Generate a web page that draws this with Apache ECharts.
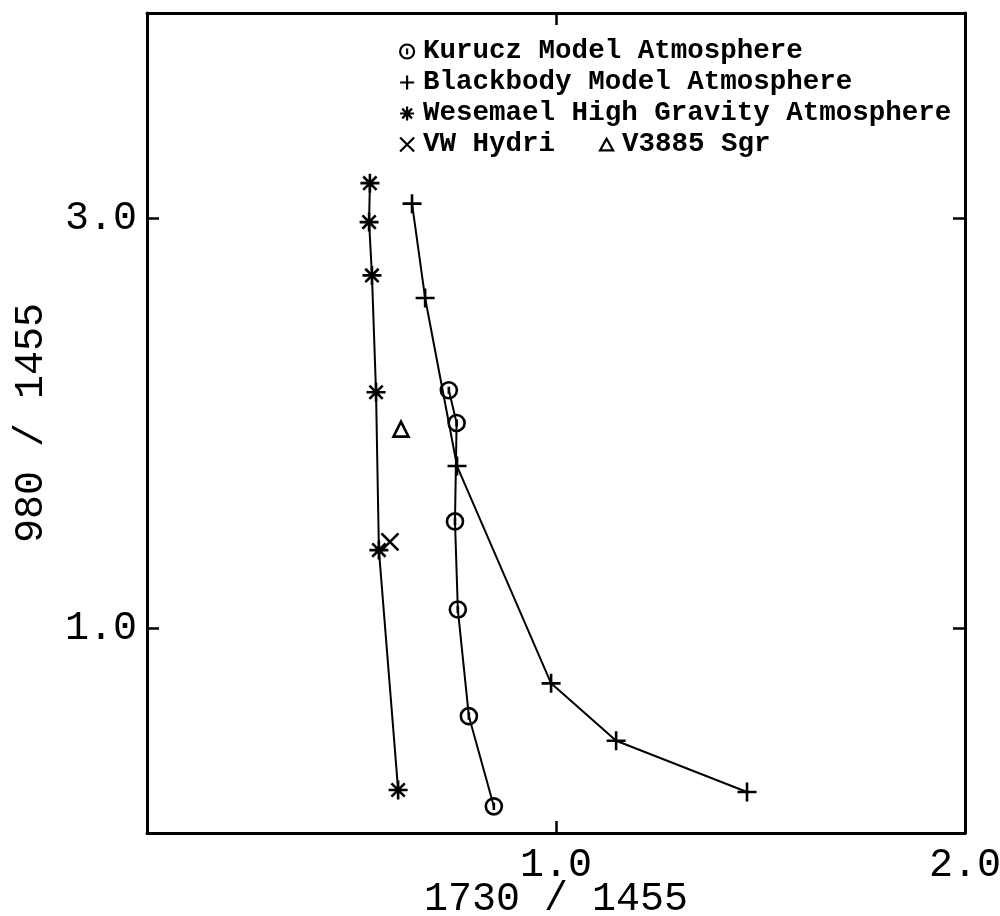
<!DOCTYPE html>
<html>
<head>
<meta charset="utf-8">
<script src="https://cdn.jsdelivr.net/npm/echarts@6/dist/echarts.min.js"></script>
<style>
html,body{margin:0;padding:0;background:#fff;}
#chart{width:1000px;height:916px;}
</style>
</head>
<body>
<div id="chart"></div>
<script>
// ---- data (x = 1730/1455, y = 980/1455) ----
const kuruczName = 'Kurucz Model Atmosphere';
const blackbodyName = 'Blackbody Model Atmosphere';
const wesemaelName = 'Wesemael High Gravity Atmosphere';
const vwName = 'VW Hydri';
const v3885Name = 'V3885 Sgr';

const kurucz = [[0.738,2.16],[0.757,2.00],[0.753,1.52],[0.760,1.09],[0.787,0.57],[0.848,0.13]];
const blackbody = [[0.648,3.07],[0.680,2.61],[0.758,1.79],[0.988,0.73],[1.147,0.45],[1.467,0.20]];
const wesemael = [[0.545,3.17],[0.543,2.98],[0.550,2.72],[0.560,2.15],[0.567,1.38],[0.614,0.21]];
const vwHydri = [[0.594,1.42]];
const v3885 = [[0.621,1.97]];

const xTicks = [1, 2];
const yTicks = [1, 3];
const xTitle = '1730 / 1455';
const yTitle = '980 / 1455';

// ---- symbols ----
const symCircle = 'path://M10,1 A9,9 0 1,1 9.99,1 Z M10,6 L10,14';
const symPlus = 'path://M0,10 L20,10 M10,0 L10,20';
const symStar = 'path://M10,0 L10,20 M0,10 L20,10 M3,3 L17,17 M17,3 L3,17';
const symX = 'path://M2,2 L18,18 M18,2 L2,18';
const symTri = 'path://M10,2 L19,18 L1,18 Z';

const monoFont = '"Liberation Mono","DejaVu Sans Mono",monospace';
const markStyle = {color: 'rgba(0,0,0,0)', borderColor: '#000', borderWidth: 2.6, opacity: 1};

function axisX(pos, showLabel) {
  return {
    type: 'value', position: pos, min: 0, max: 2, interval: 1,
    name: showLabel ? xTitle : '',
    nameLocation: 'middle', nameGap: 46, nameMoveOverlap: false,
    nameTextStyle: {fontFamily: monoFont, fontSize: 40, color: '#000'},
    axisLine: {show: true, onZero: false, lineStyle: {color: '#000', width: 3}},
    axisTick: {show: true, inside: true, length: 12, customValues: xTicks, lineStyle: {color: '#000', width: 2.5}},
    axisLabel: {show: showLabel, customValues: xTicks, margin: 12, fontFamily: monoFont, fontSize: 40, color: '#000',
      formatter: v => v.toFixed(1)},
    splitLine: {show: false}
  };
}
function axisY(pos, showLabel) {
  return {
    type: 'value', position: pos, min: 0, max: 4, interval: 1,
    name: showLabel ? yTitle : '',
    nameLocation: 'middle', nameGap: 96, nameRotate: 90, nameMoveOverlap: false,
    nameTextStyle: {fontFamily: monoFont, fontSize: 40, color: '#000'},
    axisLine: {show: true, onZero: false, lineStyle: {color: '#000', width: 3}},
    axisTick: {show: true, inside: true, length: 12, customValues: yTicks, lineStyle: {color: '#000', width: 2.5}},
    axisLabel: {show: showLabel, customValues: yTicks, margin: 10, fontFamily: monoFont, fontSize: 40, color: '#000',
      formatter: v => v.toFixed(1)},
    splitLine: {show: false}
  };
}

const legendText = {fontFamily: monoFont, fontSize: 27.5, fontWeight: 'bold', color: '#000', lineHeight: 31,
  padding: [0, 0, 0, 4]};
const legendIconStyle = {color: 'rgba(0,0,0,0)', borderColor: '#000', borderWidth: 2.2, opacity: 1};

const option = {
  animation: false,
  backgroundColor: '#fff',
  grid: {left: 147, right: 35, top: 13, bottom: 83, containLabel: false, outerBoundsMode: 'none'},
  xAxis: [axisX('bottom', true), axisX('top', false)],
  yAxis: [axisY('left', true), axisY('right', false)],
  legend: [
    {
      orient: 'vertical', left: 399, top: 36, itemGap: 0, itemWidth: 14, itemHeight: 14,
      selectedMode: false, textStyle: legendText, padding: 0,
      data: [
        {name: kuruczName, icon: symCircle, itemStyle: legendIconStyle},
        {name: blackbodyName, icon: symPlus, itemStyle: legendIconStyle},
        {name: wesemaelName, icon: symStar, itemStyle: legendIconStyle},
        {name: vwName, icon: symX, itemStyle: legendIconStyle}
      ]
    },
    {
      orient: 'vertical', left: 599, top: 129, itemGap: 0, itemWidth: 13, itemHeight: 13,
      selectedMode: false, textStyle: legendText, padding: 0,
      data: [{name: v3885Name, icon: symTri, itemStyle: legendIconStyle}]
    }
  ],
  series: [
    {name: kuruczName, type: 'line', data: kurucz, symbol: symCircle, symbolSize: 16,
      showAllSymbol: true, lineStyle: {color: '#000', width: 2}, itemStyle: markStyle, z: 3},
    {name: blackbodyName, type: 'line', data: blackbody, symbol: symPlus, symbolSize: 19,
      showAllSymbol: true, lineStyle: {color: '#000', width: 2}, itemStyle: markStyle, z: 3},
    {name: wesemaelName, type: 'line', data: wesemael, symbol: symStar, symbolSize: 19,
      showAllSymbol: true, lineStyle: {color: '#000', width: 2}, itemStyle: markStyle, z: 3},
    {name: vwName, type: 'scatter', data: vwHydri, symbol: symX, symbolSize: 17, itemStyle: markStyle, z: 3},
    {name: v3885Name, type: 'scatter', data: v3885, symbol: symTri, symbolSize: 15, itemStyle: markStyle, z: 3}
  ]
};

const chart = echarts.init(document.getElementById('chart'), null, {renderer: 'canvas'});
chart.setOption(option);
</script>
</body>
</html>
